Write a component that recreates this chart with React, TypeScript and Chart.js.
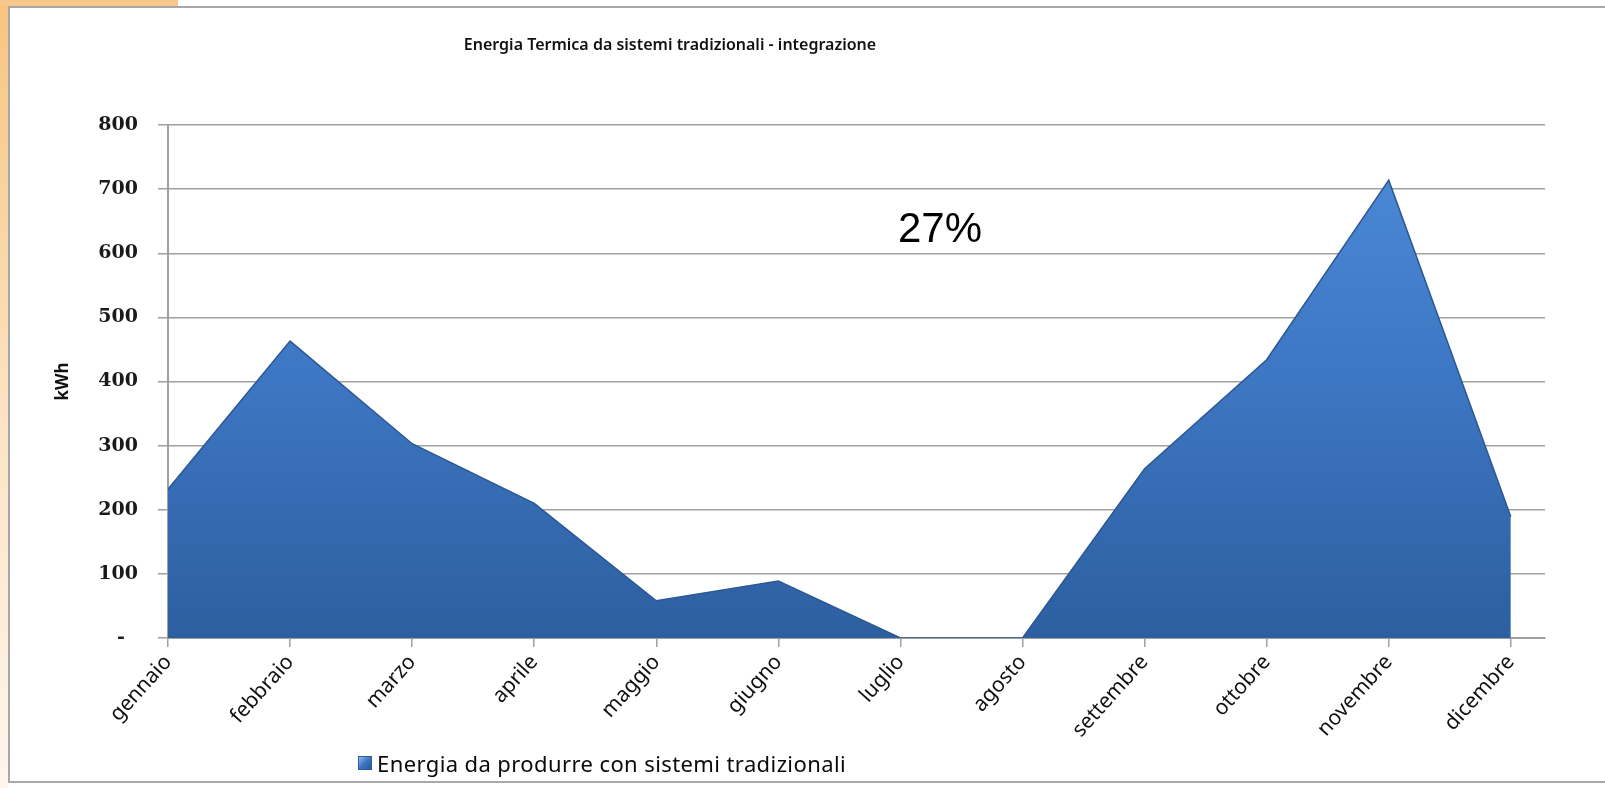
import React, { useEffect, useRef } from "react";
import { Chart, registerables } from "chart.js";

Chart.register(...registerables);

const months = [
  "gennaio", "febbraio", "marzo", "aprile", "maggio", "giugno",
  "luglio", "agosto", "settembre", "ottobre", "novembre", "dicembre",
];
const energy = [232, 463, 303, 210, 58, 89, 0, 0, 264, 434, 714, 189];
const yMin = 0;
const yMax = 800;
const yStep = 100;
const xMax = 11.28;
const chartTitle = "Energia Termica da sistemi tradizionali - integrazione";
const seriesLabel = "Energia da produrre con sistemi tradizionali";
const yTitle = "kWh";
const note = "27%";

export default function App() {
  const canvasRef = useRef<HTMLCanvasElement | null>(null);

  useEffect(() => {
    const canvas = canvasRef.current;
    if (!canvas) return;
    const chart = new Chart(canvas, {
      type: "line",
      data: {
        datasets: [
          {
            label: seriesLabel,
            data: energy.map((v, i) => ({ x: i, y: v })),
            fill: "origin",
            tension: 0,
            pointRadius: 0,
            borderWidth: 1.5,
            borderColor: "#2b5894",
            backgroundColor: (ctx: any) => {
              const area = ctx.chart.chartArea;
              if (!area) return "#3a70b8";
              const g = ctx.chart.ctx.createLinearGradient(0, area.top, 0, area.bottom);
              g.addColorStop(0, "#4d8cd9");
              g.addColorStop(0.5, "#3d76c2");
              g.addColorStop(1, "#2d5fa0");
              return g;
            },
          },
        ],
      },
      options: {
        animation: false,
        responsive: true,
        maintainAspectRatio: false,
        layout: { padding: { left: 40, right: 60, top: 117, bottom: 0 } },
        plugins: {
          legend: { display: false },
          tooltip: { enabled: false },
          title: { display: false },
        },
        scales: {
          x: {
            type: "linear",
            min: 0,
            max: xMax,
            afterBuildTicks: (scale: any) => {
              scale.ticks = months.map((_, i) => ({ value: i }));
            },
            afterFit: (scale: any) => {
              scale.height = 142;
            },
            ticks: {
              autoSkip: false,
              maxRotation: 48,
              minRotation: 48,
              padding: 3,
              color: "#111",
              font: { family: "Noto Sans", size: 21 },
              callback: (v: any) => months[v] ?? "",
            },
            grid: {
              display: true,
              drawOnChartArea: false,
              drawTicks: true,
              tickLength: 9,
              color: "#a0a0a0",
              lineWidth: 1.5,
            },
            border: { display: true, color: "#a0a0a0", width: 2 },
          },
          y: {
            min: yMin,
            max: yMax,
            afterFit: (scale: any) => {
              scale.width = 118;
            },
            ticks: {
              stepSize: yStep,
              padding: 20,
              color: "#1a1a1a",
              font: { family: "DejaVu Serif", size: 19, weight: "bold" },
              callback: (v: any) => (v === 0 ? "-  " : String(v)),
            },
            title: {
              display: true,
              text: yTitle,
              color: "#111",
              font: { family: "Noto Sans", size: 17, weight: "bold" },
              padding: { top: 3, bottom: 4 },
            },
            grid: {
              color: "#a0a0a0",
              lineWidth: 1.5,
              drawTicks: true,
              tickLength: 10,
            },
            border: { display: true, color: "#a0a0a0", width: 2 },
          },
        },
      },
    });
    return () => chart.destroy();
  }, []);

  return (
    <div style={{ position: "fixed", left: 0, top: 0, width: 1605, height: 788, background: "#fff", overflow: "hidden" }}>
      <div
        style={{
          position: "absolute", left: 0, top: 0, width: 8, height: 788,
          background: "linear-gradient(to bottom, #f7c47f 0%, #fbe2c0 50%, #fef6ec 100%)",
        }}
      />
      <div style={{ position: "absolute", left: 0, top: 0, width: 178, height: 6, background: "#f7c88a" }} />
      <div
        style={{
          position: "absolute", left: 8, top: 6, width: 1620, height: 773,
          border: "2px solid #a8a8a8", borderRight: "none", background: "#fff",
        }}
      />
      <div style={{ position: "absolute", left: 10, top: 8, width: 1595, height: 772 }}>
        <canvas ref={canvasRef} />
      </div>
      <div
        style={{
          position: "absolute", left: 420, top: 33, width: 500, textAlign: "center",
          fontFamily: "Noto Sans", fontSize: 16, fontWeight: 600, color: "#111", lineHeight: "22px",
          whiteSpace: "nowrap",
        }}
      >
        {chartTitle}
      </div>
      <div
        style={{
          position: "absolute", left: 870, top: 203, width: 140, textAlign: "center",
          fontFamily: "Liberation Sans, Arial, sans-serif", fontSize: 42, color: "#000", lineHeight: "50px",
        }}
      >
        {note}
      </div>
      <div
        style={{
          position: "absolute", left: 358, top: 751, height: 24, display: "flex", alignItems: "center",
          fontFamily: "Noto Sans", fontSize: 22, color: "#0a0a0a", whiteSpace: "nowrap",
          letterSpacing: "0.4px",
        }}
      >
        <span
          style={{
            display: "inline-block", width: 12, height: 12, marginRight: 5,
            background: "linear-gradient(135deg, #8fbdf0 0%, #3d74c0 50%, #2a5a9a 100%)",
            border: "1px solid #2d5f9f",
          }}
        />
        <span>{seriesLabel}</span>
      </div>
    </div>
  );
}
